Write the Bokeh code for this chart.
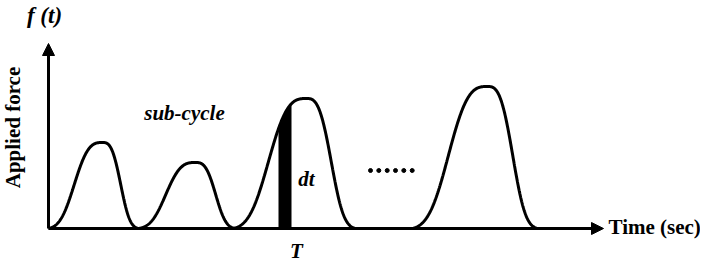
import numpy as np
from bokeh.plotting import figure
from bokeh.models import Range1d, Arrow, NormalHead, ColumnDataSource
from bokeh.core.properties import value
from bokeh.embed import file_html
from bokeh.resources import INLINE

# ---- data (time and force in drawing units) ----
pulse_start = [0, 90, 185, 364]
pulse_peak = [54, 147, 258, 439]
pulse_end = [90, 187, 307, 489]
pulse_height = [86, 66, 130, 142]

dt_start = 230
dt_end = 243
dots_x = [322, 330.3, 338.7, 347, 355.3, 363.7]
dots_y = [58, 58, 58, 58, 58, 58]

x_axis_end = 555
y_axis_end = 185

FONT = value("Liberation Serif")


def pulse_shape(x, t0, tp, t1, h):
    """Smooth asymmetric bump through start, peak and end points."""
    x = np.asarray(x, dtype=float)
    w = np.where(x < tp, (tp - t0) * 0.6, (t1 - tp) * 0.58)
    span = np.where(x < tp, tp - t0, t1 - tp)
    f = np.exp(-(np.abs(x - tp) / w) ** 3)
    f_end = np.exp(-(span / w) ** 3)
    return h * (f - f_end) / (1 - f_end)


p = figure(width=700, height=262, output_backend="svg", toolbar_location=None,
           x_range=Range1d(-48, 652), y_range=Range1d(-34, 228),
           min_border=0, outline_line_color=None)
p.axis.visible = False
p.grid.visible = False
p.background_fill_color = "white"

# pulses
for i in range(len(pulse_start)):
    xs = np.linspace(pulse_start[i], pulse_end[i], 300)
    ys = pulse_shape(xs, pulse_start[i], pulse_peak[i], pulse_end[i], pulse_height[i])
    p.line(xs, ys, line_color="black", line_width=3)
    if i == 2:
        bx = np.linspace(dt_start, dt_end, 40)
        by = pulse_shape(bx, pulse_start[i], pulse_peak[i], pulse_end[i], pulse_height[i])
        p.varea(x=bx, y1=np.zeros_like(bx), y2=by, fill_color="black")

# axes with arrows
p.add_layout(Arrow(end=NormalHead(size=12, fill_color="black", line_color="black"),
                   x_start=0, y_start=0, x_end=x_axis_end, y_end=0,
                   line_width=3, line_color="black"))
p.add_layout(Arrow(end=NormalHead(size=12, fill_color="black", line_color="black"),
                   x_start=0, y_start=0, x_end=0, y_end=y_axis_end,
                   line_width=3, line_color="black"))

# dots
p.scatter(dots_x, dots_y, size=4, color="black")

# texts
p.text(x=[-4], y=[213], text=["f (t)"], text_font=FONT, text_font_style="bold italic",
       text_font_size="23px", text_align="center", text_baseline="middle", text_color="black")
src = ColumnDataSource(dict(
    x=[136, 258, 248],
    y=[116, 50, -22],
    t=["sub-cycle", "dt", "T"],
))
p.text(x="x", y="y", text="t", source=src, text_font=FONT, text_font_style="bold italic",
       text_font_size="21px", text_align="center", text_baseline="middle", text_color="black")
p.text(x=[560], y=[2], text=["Time (sec)"], text_font=FONT, text_font_style="bold",
       text_font_size="21px", text_align="left", text_baseline="middle", text_color="black")
p.text(x=[-36], y=[101], text=["Applied force"], angle=np.pi / 2, text_font=FONT,
       text_font_style="bold", text_font_size="21px", text_align="center",
       text_baseline="middle", text_color="black")

open("out.html", "w").write(file_html(p, INLINE))
